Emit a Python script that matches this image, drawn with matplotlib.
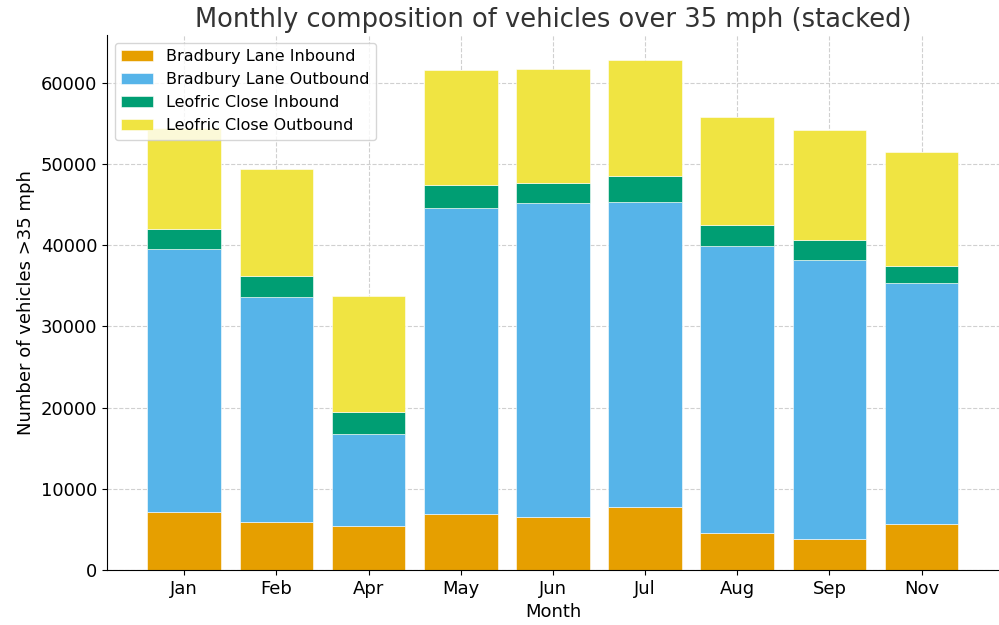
import matplotlib
matplotlib.use("Agg")
import matplotlib.pyplot as plt
import numpy as np

months = ["Jan", "Feb", "Apr", "May", "Jun", "Jul", "Aug", "Sep", "Nov"]
bradbury_in = [7190, 5960, 5430, 6900, 6540, 7770, 4600, 3860, 5640]
bradbury_out = [32350, 27660, 11340, 37730, 38670, 37570, 35350, 34330, 29660]
leofric_in = [2420, 2540, 2670, 2840, 2420, 3150, 2550, 2500, 2180]
leofric_out = [12540, 13280, 14340, 14090, 14060, 14270, 13350, 13530, 14060]

series = [
    ("Bradbury Lane Inbound", bradbury_in, "#E69F00"),
    ("Bradbury Lane Outbound", bradbury_out, "#56B4E9"),
    ("Leofric Close Inbound", leofric_in, "#009E73"),
    ("Leofric Close Outbound", leofric_out, "#F0E442"),
]

fig = plt.figure(figsize=(9.99, 6.25), dpi=100)
ax = fig.add_axes([0.107, 0.088, 0.893, 0.856])

x = np.arange(len(months))
bottom = np.zeros(len(months))
for name, vals, col in series:
    ax.bar(x, vals, 0.8, bottom=bottom, label=name, color=col,
           edgecolor="white", linewidth=0.4, zorder=2)
    bottom += np.array(vals)

ax.set_xticks(x)
ax.set_xticklabels(months)
ax.tick_params(labelsize=13)
ax.set_xlabel("Month", fontsize=13)
ax.set_ylabel("Number of vehicles >35 mph", fontsize=13)
ax.set_title("Monthly composition of vehicles over 35 mph (stacked)", fontsize=18.5,
             color="#333333")
ax.grid(True, linestyle="--", color="#d0d0d0", linewidth=0.8, zorder=0)
ax.set_axisbelow(True)
for s in ["top", "right"]:
    ax.spines[s].set_visible(False)
ax.legend(loc="upper left", fontsize=11.5)

fig.savefig("out.png", dpi=100)
